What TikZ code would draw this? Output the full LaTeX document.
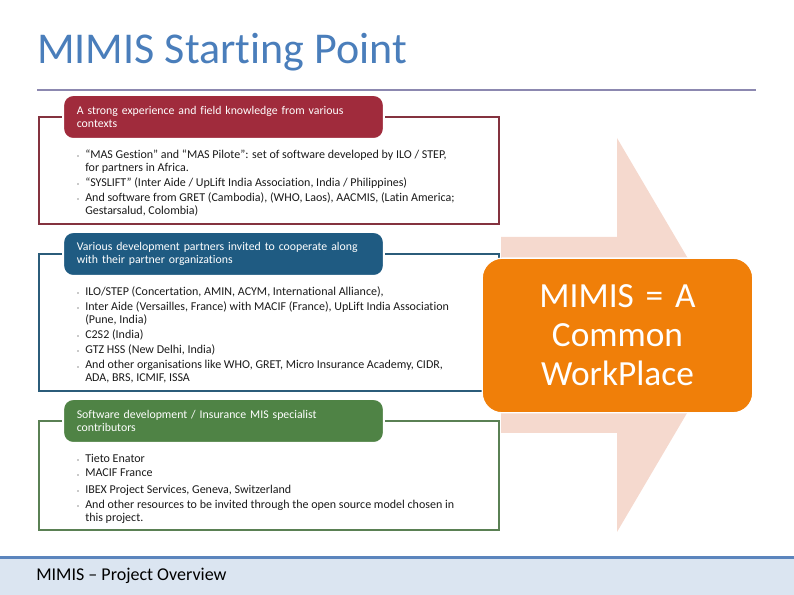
\documentclass[tikz,border=0pt]{standalone}
\usepackage{fontspec}
\setmainfont[Ligatures=NoCommon]{Carlito}
\usepackage{xcolor}
\definecolor{titleblue}{HTML}{4A7EBB}
\definecolor{rulepurple}{HTML}{8C88B0}
\definecolor{footline}{HTML}{5B85BD}
\definecolor{footfill}{HTML}{DBE5F1}
\definecolor{headred}{HTML}{A02B3C}
\definecolor{linered}{HTML}{84323F}
\definecolor{headblue}{HTML}{1F5B82}
\definecolor{lineblue}{HTML}{2B5C7A}
\definecolor{headgreen}{HTML}{4F8345}
\definecolor{linegreen}{HTML}{5A8054}
\definecolor{arrowpink}{HTML}{F5D9CE}
\definecolor{boxorange}{HTML}{F07F09}
\definecolor{itemgray}{HTML}{1A1A1A}
\tikzset{
  headbox/.style={draw=white,line width=1.5pt,rounded corners=7.5pt,minimum width=240.5pt,minimum height=33pt,
    text width=220pt,inner xsep=10pt,inner ysep=0pt,align=left,text=white,
    font=\fontsize{8.85}{9.9}\selectfont},
  itemtext/.style={anchor=north west,inner sep=0pt,align=left,text=itemgray,
    font=\fontsize{9}{9.9}\selectfont},
  framebox/.style={line width=1.1pt},
  itemdot/.style={fill=itemgray,circle,inner sep=0pt,minimum size=0.9pt}
}
\begin{document}
\begin{tikzpicture}[x=0.75pt,y=0.75pt,yscale=-1,xscale=1]
\useasboundingbox (0,0) rectangle (794,595);

% title and rule
\node (title) [anchor=west,inner sep=0pt,text=titleblue,font=\fontsize{33}{33}\selectfont] at (37,52) {MIMIS Starting Point};
\draw [rulepurple,line width=1.1pt] (37,90) -- (756,90);

% big arrow behind the boxes
\fill [arrowpink] (501,237) -- (617,237) -- (617,138) -- (733,335) -- (617,532) -- (617,433) -- (501,433) -- cycle;

% frames
\draw [framebox,linered] (39,117) rectangle (499,224);
\draw [framebox,lineblue] (39,254) rectangle (499,391);
\draw [framebox,linegreen] (39,421) rectangle (499,530);

% headers
\node (headRed) [headbox,fill=headred] at (223.5,117) {A strong experience and field knowledge from various\\contexts};
\node (headBlue) [headbox,fill=headblue] at (223.5,254) {Various development partners  invited to cooperate along\\with their partner organizations};
\node (headGreen) [headbox,fill=headgreen] at (223.5,421) {Software development / Insurance MIS specialist\\contributors};

% first list
\node (redA) [itemtext] at (85,149.5) {“MAS Gestion” and “MAS Pilote”: set of software developed by ILO / STEP,\\for partners in Africa.};
\node (redB) [itemtext] at (85,177.5) {“SYSLIFT” (Inter Aide / UpLift India Association, India / Philippines)};
\node (redC) [itemtext] at (85,192.5) {And software from GRET (Cambodia), (WHO, Laos), AACMIS, (Latin America;\\Gestarsalud, Colombia)};

% second list
\node (blueA) [itemtext] at (85,286.5) {ILO/STEP (Concertation, AMIN, ACYM, International Alliance),};
\node (blueB) [itemtext] at (85,301.5) {Inter Aide (Versailles, France) with MACIF (France), UpLift India Association\\(Pune, India)};
\node (blueC) [itemtext] at (85,329.5) {C2S2 (India)};
\node (blueD) [itemtext] at (85,344.5) {GTZ HSS (New Delhi, India)};
\node (blueE) [itemtext] at (85,360) {And other organisations like WHO, GRET, Micro Insurance Academy, CIDR,\\ADA, BRS, ICMIF, ISSA};

% third list
\node (greenA) [itemtext] at (85,453.5) {Tieto Enator};
\node (greenB) [itemtext] at (85,468.5) {MACIF France};
\node (greenC) [itemtext] at (85,484.5) {IBEX Project Services, Geneva, Switzerland};
\node (greenD) [itemtext] at (85,499.5) {And other resources to be invited through the open source model chosen in\\this project.};

% bullets
\foreach \y in {156,184,199,293,308,336,351,367,460,475,491,506}
  \node [itemdot] at (78,\y) {};

% orange box
\node (common) [draw=white,line width=1pt,fill=boxorange,rounded corners=15pt,minimum width=203pt,minimum height=116pt,
  text width=190pt,align=center,inner sep=0pt,text=white,font=\fontsize{26.5}{29.2}\selectfont] at (617.5,335.5)
  {MIMIS = A\\Common\\WorkPlace};

% footer
\fill [footfill] (0,558) rectangle (794,595);
\draw [footline,line width=2.4pt] (0,557.5) -- (794,557.5);
\node (foot) [anchor=west,inner sep=0pt,text=black,font=\fontsize{13.5}{13.5}\selectfont] at (36,576) {MIMIS – Project Overview};
\end{tikzpicture}
\end{document}
